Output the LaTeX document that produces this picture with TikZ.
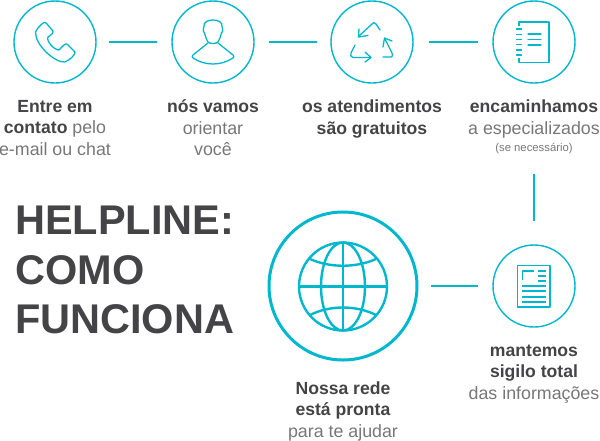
\documentclass[tikz,border=0pt]{standalone}
\usepackage{fontspec}
\setmainfont{Liberation Sans}
\usetikzlibrary{positioning}

\definecolor{helpcyan}{HTML}{00B7CE}
\definecolor{helpdark}{HTML}{444446}
\definecolor{helplight}{HTML}{77777A}

\tikzset{
	stepcircle/.style = {circle, draw=helpcyan, line width=1.4pt, minimum size=82pt, inner sep=0pt},
	bigcircle/.style = {circle, draw=helpcyan, line width=3pt, minimum size=148pt, inner sep=0pt},
	link/.style = {draw=helpcyan, line width=2pt},
	icon/.style = {draw=helpcyan, line width=1.3pt, line join=round, line cap=round},
	label/.style = {align=center, text=helpdark, inner sep=0pt, font=\fontsize{17.6}{21.5}\selectfont},
	title/.style = {align=left, anchor=north west, text=helpdark, inner sep=0pt, font=\fontsize{41.5}{49.5}\selectfont\bfseries}
}
\newcommand{\thin}[1]{\textcolor{helplight}{\fontsize{17.8}{21.5}\selectfont #1}}

\begin{document}
\begin{tikzpicture}[x=1pt, y=-1pt]
	\useasboundingbox (0,0) rectangle (600,440);

	\node[stepcircle] (contact) at (55,42) {};
	\node[stepcircle] (guide) at (213,42) {};
	\node[stepcircle] (free) at (372,42) {};
	\node[stepcircle] (refer) at (534,42) {};
	\node[stepcircle] (secret) at (534,286) {};
	\node[bigcircle] (network) at (343,286) {};

	\node[label, below=16pt of contact] (contacttext) {\textbf{Entre em}\\\textbf{contato} \thin{pelo}\\\thin{e-mail ou chat}};
	\node[label, below=16pt of guide] (guidetext) {\textbf{nós vamos}\\\thin{orientar}\\\thin{você}};
	\node[label, below=16pt of free] (freetext) {\textbf{os atendimentos}\\\textbf{são gratuitos}};
	\node[label, below=16pt of refer] (refertext) {\textbf{encaminhamos}\\\thin{a especializados}\\[-4pt]\thin{\fontsize{11.3}{12}\selectfont (se necessário)}};
	\node[label, below=17pt of secret] (secrettext) {\textbf{mantemos}\\\textbf{sigilo total}\\\thin{das informações}};
	\node[label, below=20pt of network] (networktext) {\textbf{Nossa rede}\\\textbf{está pronta}\\\thin{para te ajudar}};

	\node[title] (helptitle) at (15,206) {HELPLINE:\\COMO\\FUNCIONA};

	\draw[link, shorten <=12pt, shorten >=14pt] (contact) -- (guide);
	\draw[link, shorten <=14pt, shorten >=13pt] (guide) -- (free);
	\draw[link, shorten <=15pt, shorten >=14pt] (free) -- (refer);
	\draw[link, shorten <=90pt, shorten >=23pt] (refer) -- (secret);
	\draw[link, shorten <=12pt, shorten >=14pt] (network) -- (secret);

	% phone
	\draw[icon] (35.5,32) .. controls (36,30) and (41,24) .. (44,22.5) .. controls (45,22) and (46,23) .. (47,24)
		-- (53,31) .. controls (54,33) and (52,34) .. (48,37) .. controls (46,41) and (54,50) .. (59,50)
		.. controls (62,47) and (65,43) .. (67,44) -- (75,52) .. controls (76,54) and (70,60) .. (65,62)
		.. controls (55,63) and (35,45) .. (35.5,32);

	% person
	\draw[icon] (208,42) .. controls (206,38) and (205,36) .. (204.5,33) .. controls (203,32) and (203,28) .. (204,27)
		.. controls (203,22) and (208,20) .. (213,20) .. controls (218,20) and (223,22) .. (222,27)
		.. controls (223,28) and (223,32) .. (221.5,33) .. controls (221,36) and (220,38) .. (218,42)
		.. controls (216,44) and (210,44) .. (208,42);
	\draw[icon] (208,43) -- (193,55) .. controls (192,56) and (192,57.5) .. (193,58)
		.. controls (199,62) and (206,64) .. (213,64) .. controls (220,64) and (227,62) .. (233,58)
		.. controls (234,57.5) and (234,56) .. (233,55) -- (218,43);

	% recycling arrows
	\draw[icon] (380,30) -- (376,24) .. controls (375,22) and (373,22) .. (372,24) -- (359,36);
	\draw[icon] (359,29) -- (358.5,37) -- (368,35.5);
	\draw[icon] (383,57) -- (391,57) .. controls (393,57) and (393,55) .. (392,53) -- (385,39);
	\draw[icon] (383,47) -- (384.5,38) -- (392,41);
	\draw[icon] (355,45) -- (351,53) .. controls (350,55) and (351,57.5) .. (353,57.5) -- (370,57.5);
	\draw[icon] (365,52) -- (371,57.5) -- (365,62);

	% notebook
	\draw[icon, line cap=butt] (519,26) -- (519,22) -- (549,22) -- (549,62.5) -- (519,62.5) -- (519,58);
	\foreach \ytick in {29,34.5,39.5,44.5,50,55}
		\draw[icon] (516.5,\ytick) -- (521.5,\ytick);
	\foreach \yline in {34,39.5,45}
		\draw[icon] (528,\yline) -- (541,\yline);

	% document
	\draw[icon, line cap=butt] (517.5,265.5) rectangle (550,307);
	\draw[icon, line cap=butt] (522.5,280) -- (522.5,271) -- (534,271);
	\foreach \yline in {271,276,281}
		\draw[icon, line cap=butt] (538,\yline) -- (546,\yline);
	\foreach \yline in {286,291,297,302}
		\draw[icon, line cap=butt] (522,\yline) -- (546,\yline);

	% globe
	\begin{scope}[draw=helpcyan, line width=2.4pt]
		\draw (343,286.5) circle[radius=44];
		\draw (343,286.5) ellipse[x radius=22, y radius=44];
		\draw (343,242.5) -- (343,330.5);
		\draw (299,286.5) -- (387,286.5);
		\draw (310,259) .. controls (330,268) and (356,268) .. (376,259);
		\draw (310,315) .. controls (330,305) and (356,305) .. (376,315);
	\end{scope}
\end{tikzpicture}
\end{document}
